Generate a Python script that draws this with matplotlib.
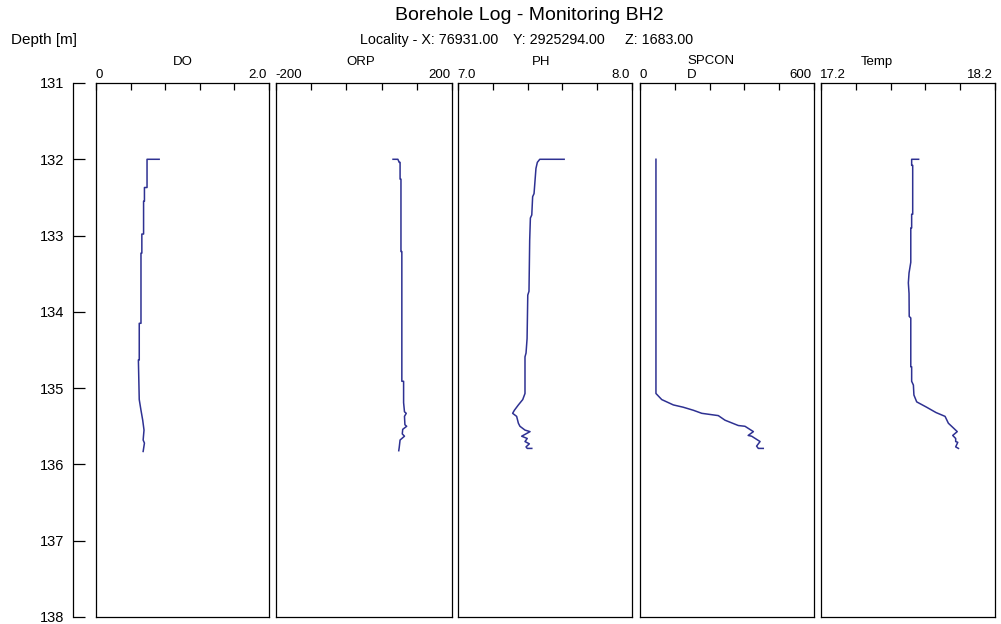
import matplotlib
matplotlib.use("Agg")
import matplotlib.pyplot as plt

plt.rcParams['font.family'] = ['Liberation Sans', 'DejaVu Sans']

W, H = 1001, 624

# depth profiles (depth in m, value in panel units)
do_depth = [132.00, 132.00, 132.37, 132.37, 132.55, 132.55, 132.98, 132.98, 133.23, 133.23,
            134.15, 134.15, 134.63, 134.63, 135.15, 135.29, 135.42, 135.55, 135.68, 135.72, 135.83]
do_vals = [0.73, 0.59, 0.59, 0.56, 0.56, 0.55, 0.55, 0.53, 0.53, 0.52,
           0.52, 0.50, 0.50, 0.49, 0.50, 0.52, 0.54, 0.555, 0.545, 0.56, 0.545]

orp_depth = [132.00, 132.00, 132.04, 132.04, 132.26, 132.26, 133.21, 133.21, 134.91, 134.91,
             135.19, 135.31, 135.33, 135.37, 135.48, 135.50, 135.54, 135.60, 135.63, 135.65,
             135.68, 135.78, 135.82]
orp_vals = [66, 77, 80, 82, 82, 84, 84, 86, 86, 90,
            90, 92, 96, 92, 93, 97, 88, 87, 92, 88,
            82, 80, 79]

ph_depth = [132.00, 132.00, 132.04, 132.12, 132.27, 132.45, 132.49, 132.73, 132.77, 133.06,
            133.73, 133.78, 134.35, 134.54, 134.59, 135.07, 135.15, 135.22, 135.29, 135.33,
            135.37, 135.46, 135.50, 135.55, 135.57, 135.63, 135.66, 135.70, 135.73, 135.77,
            135.79, 135.79]
ph_vals = [7.61, 7.47, 7.456, 7.448, 7.443, 7.437, 7.429, 7.424, 7.416, 7.412,
           7.408, 7.401, 7.397, 7.391, 7.385, 7.385, 7.372, 7.347, 7.324, 7.314,
           7.337, 7.347, 7.356, 7.385, 7.414, 7.366, 7.398, 7.385, 7.41, 7.391,
           7.398, 7.424]

sp_depth = [132.00, 135.07, 135.15, 135.22, 135.25, 135.29, 135.33, 135.36, 135.42, 135.49,
            135.50, 135.57, 135.62, 135.63, 135.70, 135.76, 135.79, 135.79]
sp_vals = [55, 55, 75, 115, 149, 184, 213, 270, 293, 339,
           362, 391, 373, 385, 414, 402, 408, 425]

temp_depth = [132.00, 132.00, 132.08, 132.08, 132.72, 132.72, 132.90, 132.90, 133.35, 133.49,
              133.62, 133.76, 134.06, 134.08, 134.72, 134.72, 134.91, 134.96, 135.09, 135.18,
              135.25, 135.32, 135.37, 135.46, 135.52, 135.57, 135.62, 135.66, 135.70, 135.71,
              135.77, 135.79]
temp_vals = [17.761, 17.721, 17.721, 17.727, 17.727, 17.721, 17.721, 17.716, 17.716, 17.706,
             17.702, 17.706, 17.707, 17.716, 17.716, 17.721, 17.721, 17.731, 17.734, 17.75,
             17.807, 17.861, 17.913, 17.932, 17.96, 17.983, 17.957, 17.974, 17.974, 17.986,
             17.974, 17.99]

panel_names = ["DO", "ORP", "PH", "SPCON\nD", "Temp"]
panel_ranges = [(0, 2.0), (-200, 200), (7.0, 8.0), (0, 600), (17.2, 18.2)]
range_labels = [("0", "2.0"), ("-200", "200"), ("7.0", "8.0"), ("0", "600"), ("17.2", "18.2")]
series = [(do_depth, do_vals), (orp_depth, orp_vals), (ph_depth, ph_vals),
          (sp_depth, sp_vals), (temp_depth, temp_vals)]

depth_ticks = [131, 132, 133, 134, 135, 136, 137, 138]

# layout in pixels
top, bottom = 83, 617
panel_x = [(96, 269), (276, 452), (458, 632), (640, 814), (821, 995)]
name_x = [183, 361, 541, 687, 877]
line_color = '#2e3192'


def rect(l, r, t, b):
    return [l / W, 1 - b / H, (r - l) / W, (b - t) / H]


def fx(x):
    return x / W


def fy(y):
    return 1 - y / H


fig = plt.figure(figsize=(W / 100, H / 100), dpi=100)

# depth axis
dax = fig.add_axes(rect(73, 74, top, bottom))
dax.set_ylim(138, 131)
dax.set_xticks([])
dax.set_yticks(depth_ticks)
dax.set_yticklabels([str(d) for d in depth_ticks], fontsize=10.5)
dax.tick_params(axis='y', direction='in', length=8.6, width=0.9, pad=6)
for s in ['top', 'right', 'bottom']:
    dax.spines[s].set_visible(False)
dax.spines['left'].set_linewidth(0.9)
dax.patch.set_alpha(0)

for i, (xl, xr) in enumerate(panel_x):
    ax = fig.add_axes(rect(xl, xr, top, bottom))
    lo, hi = panel_ranges[i]
    ax.set_xlim(lo, hi)
    ax.set_ylim(138, 131)
    d, v = series[i]
    ax.plot(v, d, color=line_color, lw=1.1)
    step = (hi - lo) / 5
    ax.set_xticks([lo + k * step for k in range(6)])
    ax.xaxis.set_ticks_position('top')
    ax.tick_params(axis='x', direction='in', length=5, width=0.9,
                   labeltop=False, labelbottom=False)
    ax.set_yticks([])
    for s in ax.spines.values():
        s.set_linewidth(0.9)

    fig.text(fx(xl - 1), fy(75), range_labels[i][0], fontsize=9.5, ha='left', va='center')
    fig.text(fx(xr - 2), fy(75), range_labels[i][1], fontsize=9.5, ha='right', va='center')
    if "\n" in panel_names[i]:
        fig.text(fx(name_x[i]), fy(55), panel_names[i], fontsize=9.5, ha='left', va='top',
                 linespacing=1.25)
    else:
        fig.text(fx(name_x[i]), fy(62), panel_names[i], fontsize=9.5, ha='center', va='center')

fig.text(fx(395), fy(15), "Borehole Log - Monitoring BH2", fontsize=14, ha='left', va='center')
fig.text(fx(11), fy(40), "Depth [m]", fontsize=11, ha='left', va='center')
fig.text(fx(360), fy(40), "Locality - X: 76931.00", fontsize=10.3, ha='left', va='center')
fig.text(fx(513), fy(40), "Y: 2925294.00", fontsize=10.3, ha='left', va='center')
fig.text(fx(625), fy(40), "Z: 1683.00", fontsize=10.3, ha='left', va='center')

fig.savefig("out.png", dpi=100)
